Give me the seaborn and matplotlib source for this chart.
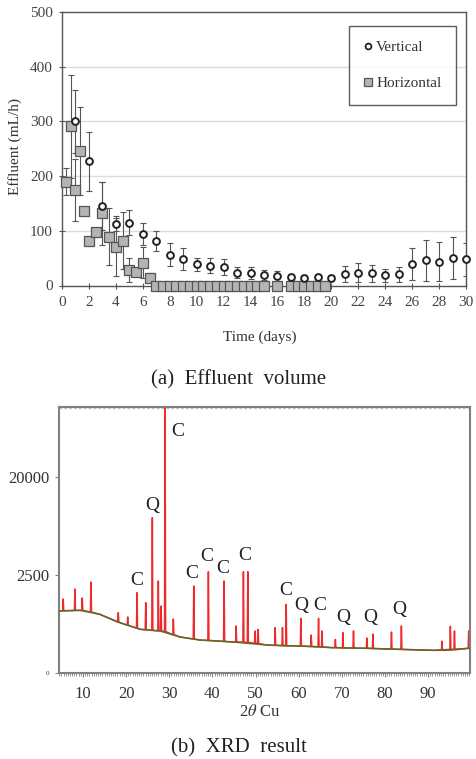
import numpy as np
import pandas as pd
import matplotlib
matplotlib.use("Agg")
import matplotlib.pyplot as plt
import seaborn as sns
from matplotlib.ticker import MultipleLocator, FixedLocator
from matplotlib.lines import Line2D

# ---------------- (a) Effluent volume ----------------
vert_days = [1, 2, 3, 4, 5, 6, 7, 8, 9, 10, 11, 12, 13, 14, 15,
             16, 17, 18, 19, 20, 21, 22, 23, 24, 25, 26, 27, 28, 29, 30]
vert_flow = [300, 227, 146, 113, 115, 94, 81.5, 56, 49, 39, 36, 34, 23.5, 22, 19,
             18, 15.5, 14, 15, 14, 21, 23.5, 22, 19, 20.5, 39, 46, 43.6, 50, 48]
vert_err = [58, 54, 44, 14, 23, 20, 19, 21, 20, 12, 14, 14, 10, 11, 9,
            9, 6, 5, 6, 5, 15, 17, 15, 12, 14, 29, 38, 36, 38, 30]

horiz_days = [0.33, 0.67, 1.0, 1.33, 1.67, 2.0, 2.5, 3.0, 3.5, 4.0, 4.5, 5.0, 5.5, 6.0, 6.5,
              7.0, 7.5, 8.0, 8.5, 9.0, 9.5, 10.0, 10.5, 11.0, 11.5, 12.0, 12.5, 13.0,
              13.5, 14.0, 14.5, 15.0, 16.0, 17.0, 17.5, 18.0, 18.5, 19.0, 19.5]
horiz_flow = [190, 291, 175, 246, 136, 82, 97, 132, 89, 71, 82, 28, 25, 42, 14,
              0, 0, 0, 0, 0, 0, 0, 0, 0, 0, 0, 0, 0,
              0, 0, 0, 0, 0, 0, 0, 0, 0, 0, 0]
horiz_err = [24, 94, 57, 81, 0, 0, 5, 58, 52, 53, 52, 22, 5, 29, 8,
             0, 0, 0, 0, 0, 0, 0, 0, 0, 0, 0, 0, 0,
             0, 0, 0, 0, 0, 0, 0, 0, 0, 0, 0]

effluent_yticks = [0, 100, 200, 300, 400, 500]
effluent_xticks = [0, 2, 4, 6, 8, 10, 12, 14, 16, 18, 20, 22, 24, 26, 28, 30]

# ---------------- (b) XRD result ----------------
xrd_base_theta = [4.5, 9.3, 13.9, 18.6, 23.2, 27.9, 32.5, 37.1, 44.8, 52.7,
                  60.3, 68.0, 75.9, 83.5, 91.2, 99.7]
xrd_base_counts = [634, 654, 537, 338, 222, 197, 124, 95, 79, 58,
                   52, 43, 40, 35, 31, 40]

peak_theta = [5.43, 8.14, 9.84, 11.86, 18.19, 20.37, 22.53, 24.55, 26.08, 27.47,
              28.1, 29.03, 30.95, 35.68, 39.07, 42.71, 45.5, 47.19, 48.21, 49.9,
              50.6, 54.55, 56.24, 57.1, 60.5, 62.9, 64.6, 65.4, 68.5, 70.25,
              72.7, 75.8, 77.2, 81.5, 83.8, 93.2, 95.15, 96.1, 99.4]
peak_counts = [1077, 1574, 1121, 2003, 582, 467, 1376, 923, 9950, 2070,
               800, 60000, 418, 1750, 2760, 2070, 276, 2760, 2760, 197,
               220, 247, 250, 858, 434, 146, 434, 197, 100, 174,
               197, 114, 157, 183, 276, 85, 270, 197, 197]
peak_foot = [640, 650, 654, 600, 350, 290, 240, 215, 205, 200,
             198, 190, 150, 105, 92, 84, 80, 78, 76, 70,
             68, 56, 54, 53, 52, 50, 48, 47, 44, 42,
             41, 40, 39, 36, 35, 31, 32, 33, 40]

label_text = ["C", "Q", "C", "C", "C", "C", "C", "C", "Q", "C", "Q", "Q", "Q"]
label_theta = [32.0, 26.1, 22.4, 35.2, 38.7, 42.5, 47.4, 57.1, 60.7, 64.8, 70.4, 76.6, 83.3]
label_counts = [37600, 12400, 2070, 2580, 4150, 3075, 4255, 1466, 800, 835, 450, 450, 665]

xrd_yticks = [0, 2500, 20000]
xrd_xticks = [10, 20, 30, 40, 50, 60, 70, 80, 90]

# ---------------- style ----------------
sns.set_theme(style="white")
plt.rcParams["font.family"] = ["Liberation Serif", "DejaVu Serif"]
plt.rcParams["mathtext.fontset"] = "stix"
TXT = "#333333"

fig = plt.figure(figsize=(4.76, 7.59), dpi=100)

# ======== top panel ========
ax1 = fig.add_axes([62 / 476, 1 - 285.5 / 759, 404 / 476, 273.5 / 759])
df_v = pd.DataFrame({"day": vert_days, "flow": vert_flow, "err": vert_err})
df_h = pd.DataFrame({"day": horiz_days, "flow": horiz_flow, "err": horiz_err})

for y in [100, 200, 300, 400]:
    ax1.axhline(y, color="#dcdcdc", lw=1.0, zorder=0)

ax1.errorbar(df_h["day"], df_h["flow"], yerr=df_h["err"], fmt="none",
             ecolor="#555555", elinewidth=0.8, capsize=2, capthick=0.8, zorder=2)
ax1.errorbar(df_v["day"], df_v["flow"], yerr=df_v["err"], fmt="none",
             ecolor="#555555", elinewidth=0.8, capsize=2, capthick=0.8, zorder=2)

sns.scatterplot(data=df_h, x="day", y="flow", marker="s", s=46, color="#b4b4b4",
                edgecolor="#555555", linewidth=0.9, ax=ax1, zorder=3, clip_on=False,
                legend=False)
sns.scatterplot(data=df_v, x="day", y="flow", marker="o", s=24, color="white",
                edgecolor="#222222", linewidth=1.4, ax=ax1, zorder=4, clip_on=False,
                legend=False)

ax1.set_xlim(0, 30)
ax1.set_ylim(0, 500)
ax1.xaxis.set_major_locator(FixedLocator(effluent_xticks))
ax1.yaxis.set_major_locator(FixedLocator(effluent_yticks))
ax1.tick_params(axis="both", which="major", direction="inout", length=5, width=0.8,
                color="#555555", labelsize=11, labelcolor="#444444", left=True, bottom=True)
ax1.tick_params(axis="x", pad=5)
ax1.tick_params(axis="y", pad=4)
for sp in ax1.spines.values():
    sp.set_color("#555555")
    sp.set_linewidth(1.0)
ax1.set_xlabel("Time (days)", fontsize=11, color=TXT)
ax1.set_ylabel("Effluent (mL/h)", fontsize=11, color=TXT)
ax1.xaxis.set_label_coords(0.49, -0.165)
ax1.yaxis.set_label_coords(-0.1, 0.51)

handles = [
    Line2D([], [], marker="o", ls="none", markersize=4.2, markerfacecolor="white",
           markeredgecolor="#222222", markeredgewidth=1.3, label="Vertical"),
    Line2D([], [], marker="s", ls="none", markersize=6, markerfacecolor="#b4b4b4",
           markeredgecolor="#555555", markeredgewidth=0.9, label="Horizontal"),
]
leg = ax1.legend(handles=handles, loc="upper right", bbox_to_anchor=(0.975, 0.948),
                 frameon=True, fancybox=False, fontsize=11, handlelength=0.6,
                 handletextpad=0.25, labelspacing=1.45, borderpad=0.95,
                 borderaxespad=0.0)
leg.get_frame().set_edgecolor("#333333")
leg.get_frame().set_linewidth(1.0)
for t in leg.get_texts():
    t.set_color(TXT)

fig.text(0.502, 1 - 380 / 759, "(a)  Effluent  volume", ha="center", va="center",
         fontsize=15, color="#222222")

# ======== bottom panel (XRD) ========
ax2 = fig.add_axes([59 / 476, 1 - 673 / 759, 411 / 476, 266 / 759])

# build red trace from baseline points and read peaks
pts = list(zip(xrd_base_theta, xrd_base_counts))
for th, c, f in zip(peak_theta, peak_counts, peak_foot):
    pts += [(th - 0.12, f), (th, c), (th + 0.12, f)]
pts.sort(key=lambda p: p[0])
df_xrd = pd.DataFrame(pts, columns=["theta", "counts"])
df_base = pd.DataFrame({"theta": xrd_base_theta, "counts": xrd_base_counts})

ax2.set_yscale("function", functions=(np.cbrt, lambda v: np.power(v, 3)))

sns.lineplot(data=df_xrd, x="theta", y="counts", estimator=None, sort=False,
             color="#ee2a2a", lw=1.1, ax=ax2, zorder=2)
sns.lineplot(data=df_base, x="theta", y="counts", estimator=None, sort=False,
             color="#5b6b2a", lw=1.1, ax=ax2, zorder=3)
ax2.axhline(49500, color="#a9c9ea", lw=1.0, ls=(0, (2, 1.5)), zorder=1)

for txt, th, c in zip(label_text, label_theta, label_counts):
    ax2.text(th, c, txt, ha="center", va="center", fontsize=14, color="#222222")

ax2.set_xlim(4.45, 99.7)
ax2.set_ylim(0, 50000)
ax2.xaxis.set_major_locator(FixedLocator(xrd_xticks))
ax2.xaxis.set_minor_locator(MultipleLocator(0.5))
ax2.yaxis.set_major_locator(FixedLocator(xrd_yticks))
ax2.set_yticklabels(["0", "2500", "20000"])
ax2.tick_params(axis="x", which="major", direction="out", length=3, width=0.8,
                color="#808080", labelsize=12, labelcolor="#333333", pad=6, bottom=True)
ax2.tick_params(axis="x", which="minor", direction="out", length=2, width=0.6,
                color="#808080", bottom=True)
ax2.tick_params(axis="y", which="major", direction="out", length=3, width=0.8,
                color="#808080", labelsize=12, labelcolor="#333333", pad=4, left=True)
ax2.get_yticklabels()[0].set_fontsize(5)
for sp in ax2.spines.values():
    sp.set_color("#808080")
    sp.set_linewidth(1.5)
ax2.set_xlabel(r"2$\theta$ Cu", fontsize=12, color=TXT)
ax2.set_ylabel("")
ax2.xaxis.set_label_coords(0.489, -0.115)

fig.text(0.503, 1 - 757.5 / 759, "(b)  XRD  result", ha="center", va="bottom",
         fontsize=15, color="#222222")

fig.savefig("out.png", dpi=100)
